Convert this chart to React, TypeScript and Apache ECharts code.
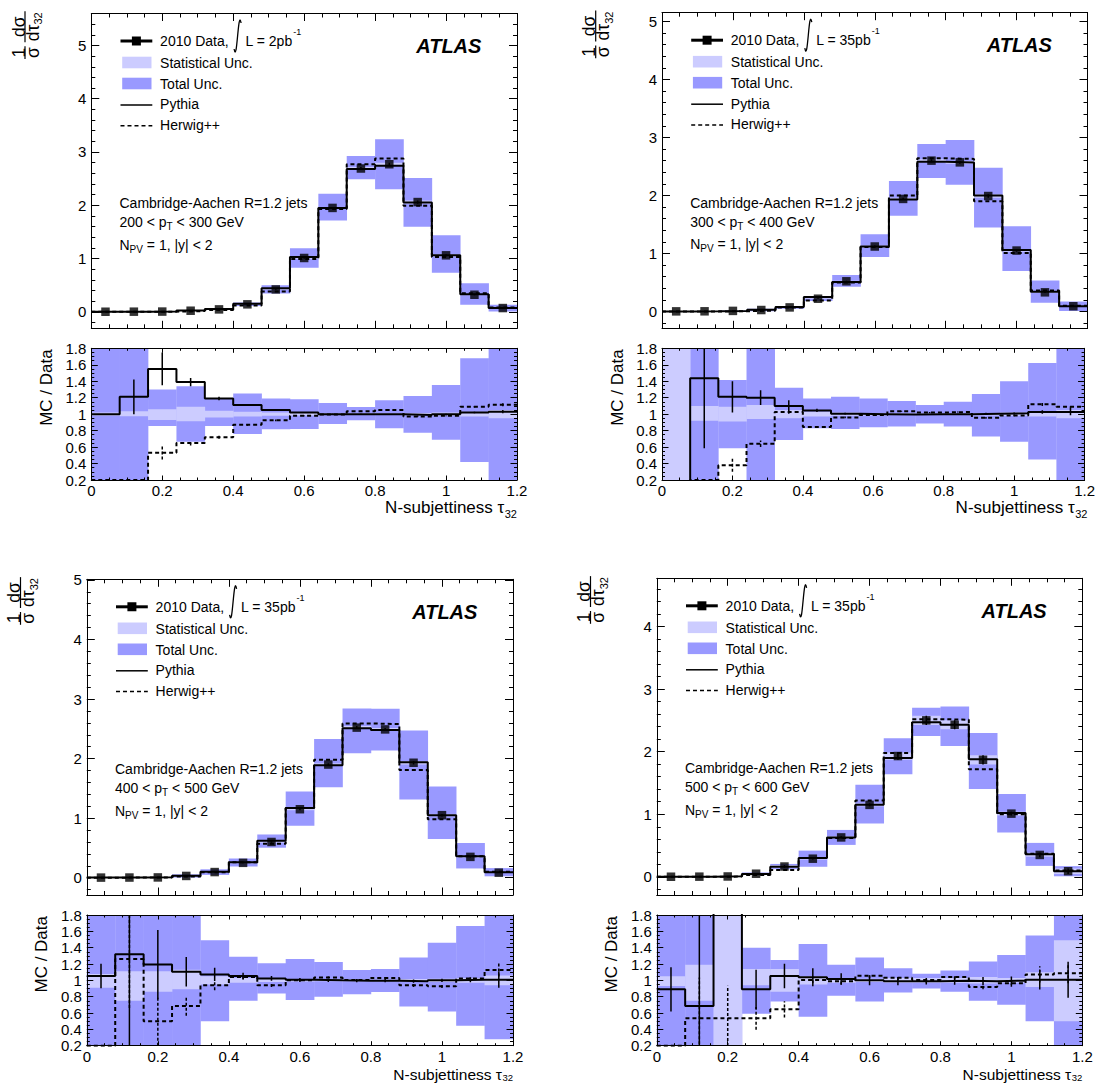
import React, { useEffect, useRef } from 'react';
import * as echarts from 'echarts';

// ---------- binning & ticks ----------
const binLow = [0, 0.08, 0.16, 0.24, 0.32, 0.4, 0.48, 0.56, 0.64, 0.72, 0.8, 0.88, 0.96, 1.04, 1.12];
const binHigh = [0.08, 0.16, 0.24, 0.32, 0.4, 0.48, 0.56, 0.64, 0.72, 0.8, 0.88, 0.96, 1.04, 1.12, 1.2];
const binCenter = [0.04, 0.12, 0.2, 0.28, 0.36, 0.44, 0.52, 0.6, 0.68, 0.76, 0.84, 0.92, 1.0, 1.08, 1.16];
const xTickValues = [0, 0.2, 0.4, 0.6, 0.8, 1, 1.2];
const mainYTickValues = [0, 1, 2, 3, 4, 5];
const ratioYTickValues = [0.2, 0.4, 0.6, 0.8, 1, 1.2, 1.4, 1.6, 1.8];

const ptLow = ['200', '300', '400', '500'];
const ptHigh = ['300', '400', '500', '600'];
const lumiText = ['2pb', '35pb', '35pb', '35pb'];

// ---------- panel 1: 200 < pT < 300 GeV ----------
const p1Data = [0.001, 0.002, 0.004, 0.02, 0.045, 0.14, 0.42, 1.01, 1.95, 2.69, 2.77, 2.06, 1.06, 0.32, 0.07];
const p1Pythia = [0.001, 0.002, 0.006, 0.025, 0.05, 0.15, 0.44, 1.03, 1.95, 2.68, 2.74, 2.05, 1.06, 0.33, 0.07];
const p1Herwig = [0.0, 0.0, 0.003, 0.013, 0.033, 0.12, 0.38, 0.99, 1.93, 2.77, 2.88, 1.99, 1.03, 0.35, 0.08];
const p1TotUp = [1.9, 1.9, 1.30, 1.34, 1.185, 1.25, 1.19, 1.18, 1.136, 1.087, 1.17, 1.22, 1.355, 1.68, 1.9];
const p1TotDn = [0.1, 0.1, 0.856, 0.666, 0.856, 0.76, 0.816, 0.82, 0.88, 0.925, 0.83, 0.775, 0.69, 0.42, 0.1];
const p1StatUp = [1.02, 1.035, 1.06, 1.09, 1.04, 1.03, 1.02, 1.015, 1.01, 1.01, 1.01, 1.015, 1.02, 1.03, 1.05];
const p1StatDn = [0.98, 0.975, 0.93, 0.915, 0.96, 0.97, 0.98, 0.985, 0.99, 0.99, 0.99, 0.985, 0.98, 0.97, 0.95];
const p1PyRatio = [1.0, 1.21, 1.55, 1.39, 1.19, 1.11, 1.05, 1.02, 1.0, 1.0, 0.998, 0.99, 1.0, 1.02, 1.03];
const p1PyErr = [0.0, 0.21, 0.2, 0.05, 0.02, 0.01, 0.01, 0.005, 0.005, 0.005, 0.005, 0.005, 0.005, 0.01, 0.02];
const p1HwRatio = [0.2, 0.2, 0.53, 0.65, 0.72, 0.87, 0.925, 0.98, 0.995, 1.035, 1.05, 0.97, 0.98, 1.09, 1.115];
const p1HwErr = [0, 0, 0.08, 0.03, 0.02, 0.01, 0.01, 0.005, 0.005, 0.005, 0.005, 0.005, 0.005, 0.01, 0.02];

// ---------- panel 2: 300 < pT < 400 GeV ----------
const p2Data = [0.002, 0.003, 0.01, 0.025, 0.07, 0.22, 0.52, 1.12, 1.94, 2.60, 2.57, 1.99, 1.05, 0.33, 0.09];
const p2Pythia = [0.0, 0.004, 0.01, 0.03, 0.075, 0.25, 0.51, 1.12, 1.93, 2.58, 2.57, 2.0, 1.06, 0.34, 0.09];
const p2Herwig = [0.0, 0.0, 0.004, 0.015, 0.07, 0.19, 0.50, 1.11, 2.0, 2.64, 2.63, 1.90, 1.01, 0.36, 0.10];
const p2TotUp = [1.9, 1.9, 1.415, 1.9, 1.32, 1.19, 1.21, 1.19, 1.16, 1.11, 1.15, 1.245, 1.40, 1.62, 1.9];
const p2TotDn = [0.1, 0.1, 0.585, 0.1, 0.686, 0.83, 0.82, 0.84, 0.85, 0.885, 0.85, 0.727, 0.666, 0.45, 0.1];
const p2StatUp = [1.9, 1.10, 1.09, 1.11, 1.05, 1.03, 1.02, 1.015, 1.01, 1.01, 1.01, 1.015, 1.02, 1.03, 1.05];
const p2StatDn = [0.1, 0.92, 0.91, 0.94, 0.95, 0.97, 0.98, 0.985, 0.99, 0.99, 0.99, 0.985, 0.98, 0.97, 0.95];
const p2PyRatio = [0.0, 1.435, 1.21, 1.20, 1.10, 1.045, 1.006, 1.0, 0.995, 1.0, 1.0, 1.006, 1.01, 1.026, 1.026];
const p2PyErr = [0, 0.85, 0.19, 0.09, 0.07, 0.02, 0.01, 0.01, 0.005, 0.005, 0.005, 0.01, 0.01, 0.02, 0.04];
const p2HwRatio = [0.0, 0.2, 0.38, 0.64, 1.025, 0.845, 0.96, 0.99, 1.035, 1.02, 1.026, 0.955, 0.985, 1.12, 1.09];
const p2HwErr = [0, 0, 0.08, 0.04, 0.02, 0.01, 0.01, 0.005, 0.005, 0.005, 0.005, 0.01, 0.01, 0.02, 0.03];

// ---------- panel 3: 400 < pT < 500 GeV ----------
const p3Data = [0.002, 0.003, 0.005, 0.03, 0.095, 0.25, 0.60, 1.15, 1.90, 2.52, 2.49, 1.93, 1.05, 0.35, 0.085];
const p3Pythia = [0.002, 0.004, 0.006, 0.033, 0.10, 0.26, 0.62, 1.17, 1.89, 2.51, 2.48, 1.94, 1.05, 0.36, 0.09];
const p3Herwig = [0.0, 0.004, 0.003, 0.02, 0.09, 0.26, 0.57, 1.17, 1.98, 2.59, 2.58, 1.81, 0.98, 0.36, 0.10];
const p3TotUp = [1.9, 1.9, 1.9, 1.9, 1.49, 1.29, 1.21, 1.26, 1.225, 1.127, 1.14, 1.28, 1.46, 1.665, 1.9];
const p3TotDn = [0.1, 0.1, 0.1, 0.1, 0.50, 0.75, 0.84, 0.76, 0.80, 0.83, 0.857, 0.68, 0.62, 0.445, 0.28];
const p3StatUp = [1.078, 1.11, 1.11, 1.13, 1.05, 1.03, 1.02, 1.015, 1.01, 1.01, 1.01, 1.015, 1.02, 1.03, 1.06];
const p3StatDn = [0.91, 0.75, 0.86, 0.89, 0.95, 0.97, 0.98, 0.985, 0.99, 0.99, 0.99, 0.985, 0.98, 0.97, 0.94];
const p3PyRatio = [1.053, 1.32, 1.195, 1.105, 1.073, 1.053, 1.024, 1.008, 1.0, 0.996, 0.996, 0.99, 1.0, 1.008, 1.008];
const p3PyErr = [0.15, 1.2, 0.42, 0.18, 0.08, 0.04, 0.03, 0.02, 0.02, 0.02, 0.02, 0.02, 0.02, 0.03, 0.1];
const p3HwRatio = [0.2, 1.26, 0.50, 0.686, 0.94, 1.04, 0.94, 1.0, 1.036, 1.004, 1.03, 0.94, 0.927, 1.024, 1.127];
const p3HwErr = [0, 0.6, 0.3, 0.12, 0.06, 0.03, 0.02, 0.02, 0.01, 0.01, 0.01, 0.02, 0.02, 0.03, 0.08];

// ---------- panel 4: 500 < pT < 600 GeV ----------
const p4Data = [0.002, 0.003, 0.006, 0.05, 0.165, 0.29, 0.63, 1.15, 1.93, 2.50, 2.43, 1.87, 1.01, 0.35, 0.09];
const p4Pythia = [0.002, 0.002, 0.01, 0.045, 0.16, 0.30, 0.63, 1.15, 1.90, 2.47, 2.43, 1.88, 1.02, 0.36, 0.09];
const p4Herwig = [0.0, 0.002, 0.004, 0.03, 0.11, 0.30, 0.62, 1.22, 1.98, 2.52, 2.51, 1.72, 1.0, 0.37, 0.10];
const p4TotUp = [1.9, 1.9, 1.9, 1.40, 1.25, 1.445, 1.19, 1.28, 1.147, 1.08, 1.12, 1.23, 1.31, 1.55, 1.9];
const p4TotDn = [0.1, 0.1, 0.1, 0.59, 0.74, 0.555, 0.81, 0.74, 0.85, 0.90, 0.86, 0.75, 0.70, 0.50, 0.1];
const p4StatUp = [1.05, 1.19, 1.9, 1.14, 1.14, 1.05, 1.03, 1.02, 1.03, 1.03, 1.03, 1.04, 1.03, 1.10, 1.49];
const p4StatDn = [0.93, 0.75, 0.1, 0.94, 0.86, 0.95, 0.97, 0.98, 0.97, 0.97, 0.97, 0.96, 0.97, 0.92, 0.50];
const p4PyRatio = [0.89, 0.686, 2.5, 0.89, 1.053, 1.037, 1.016, 1.0, 0.99, 0.99, 0.996, 0.99, 0.996, 1.008, 1.008];
const p4PyErr = [0.27, 1.2, 0.3, 0.24, 0.15, 0.11, 0.07, 0.06, 0.05, 0.04, 0.05, 0.05, 0.05, 0.12, 0.22];
const p4HwRatio = [0.2, 0.535, 0.535, 0.535, 0.645, 1.004, 0.99, 1.057, 1.033, 1.004, 1.04, 0.92, 0.963, 1.073, 1.086];
const p4HwErr = [0, 0.5, 0.4, 0.14, 0.1, 0.04, 0.04, 0.03, 0.03, 0.03, 0.03, 0.03, 0.04, 0.1, 0.12];

const panels = [
  { data: p1Data, pythia: p1Pythia, herwig: p1Herwig, totUp: p1TotUp, totDn: p1TotDn, statUp: p1StatUp, statDn: p1StatDn, pyR: p1PyRatio, pyErr: p1PyErr, hwR: p1HwRatio, hwErr: p1HwErr },
  { data: p2Data, pythia: p2Pythia, herwig: p2Herwig, totUp: p2TotUp, totDn: p2TotDn, statUp: p2StatUp, statDn: p2StatDn, pyR: p2PyRatio, pyErr: p2PyErr, hwR: p2HwRatio, hwErr: p2HwErr },
  { data: p3Data, pythia: p3Pythia, herwig: p3Herwig, totUp: p3TotUp, totDn: p3TotDn, statUp: p3StatUp, statDn: p3StatDn, pyR: p3PyRatio, pyErr: p3PyErr, hwR: p3HwRatio, hwErr: p3HwErr },
  { data: p4Data, pythia: p4Pythia, herwig: p4Herwig, totUp: p4TotUp, totDn: p4TotDn, statUp: p4StatUp, statDn: p4StatDn, pyR: p4PyRatio, pyErr: p4PyErr, hwR: p4HwRatio, hwErr: p4HwErr },
];

// ---------- layout (pixels) ----------
const layout = [
  { L: 91.3, R: 517, mainT: 13.5, mainB: 328.3, ratioT: 348.3, ratioB: 480, yMin: -0.31, yMax: 5.6, titleY: 27.5, titleFs: 17, subFs: 11, subDy: 6 },
  { L: 662, R: 1087.5, mainT: 12.7, mainB: 328.3, ratioT: 348.3, ratioB: 480, yMin: -0.29, yMax: 5.15, titleY: 27.5, titleFs: 17, subFs: 11, subDy: 6 },
  { L: 86.8, R: 513, mainT: 579.3, mainB: 895, ratioT: 915, ratioB: 1045.7, yMin: -0.29, yMax: 5.01, titleY: 28.3, titleFs: 15.5, subFs: 9.5, subDy: 3.5 },
  { L: 656.8, R: 1082.3, mainT: 578.3, mainB: 895, ratioT: 915, ratioB: 1045.7, yMin: -0.29, yMax: 4.77, titleY: 28.3, titleFs: 15.5, subFs: 9.5, subDy: 3.5 },
];

const FONT = 'Liberation Sans';
const DARK = '#9999ff';
const LIGHT = '#ccccff';
const BLACK = '#000';

let measureCtx: any = null;
function tw(t: string, size: number, weight = 'normal', style = 'normal') {
  if (!measureCtx) measureCtx = document.createElement('canvas').getContext('2d');
  measureCtx.font = `${style} ${weight} ${size}px "${FONT}"`;
  return measureCtx.measureText(t).width;
}

function txt(t: string, x: number, y: number, size: number, align = 'left', va = 'middle', weight = 'normal', fstyle = 'normal') {
  return {
    type: 'text', x, y, z: 50,
    style: { text: t, fontSize: size, fontFamily: FONT, fontWeight: weight, fontStyle: fstyle, fill: BLACK, align, verticalAlign: va },
  };
}

type Part = { t: string; size: number; dy?: number };
function runText(x: number, y: number, parts: Part[]) {
  const out: any[] = [];
  let cx = x;
  for (const p of parts) {
    out.push(txt(p.t, cx, y + (p.dy || 0), p.size));
    cx += tw(p.t, p.size);
  }
  return out;
}

const fmtFrom = (vals: number[]) => (v: number) => {
  const hit = vals.find((t) => Math.abs(t - v) < 1e-6);
  return hit === undefined ? '' : String(hit);
};

function bandSeries(xi: number, lo: number[], hi: number[], color: string, z: number) {
  return {
    type: 'custom', xAxisIndex: xi, yAxisIndex: xi, clip: true, silent: true, z,
    data: binLow.map((b, i) => [b, binHigh[i], lo[i], hi[i]]),
    encode: { x: [0, 1], y: [2, 3] },
    renderItem: (_p: any, api: any) => {
      const a = api.coord([api.value(0), api.value(3)]);
      const b = api.coord([api.value(1), api.value(2)]);
      return { type: 'rect', shape: { x: a[0], y: a[1], width: b[0] - a[0] + 0.3, height: b[1] - a[1] }, style: { fill: color } };
    },
  };
}

function stepSeries(xi: number, vals: number[], dashed: boolean, z: number) {
  const d = binLow.map((b, i) => [b, vals[i]]);
  d.push([binHigh[binHigh.length - 1], vals[vals.length - 1]]);
  return {
    type: 'line', xAxisIndex: xi, yAxisIndex: xi, step: 'end', data: d, symbol: 'none', showSymbol: false,
    clip: true, silent: true, z,
    lineStyle: { color: BLACK, width: 2, type: dashed ? [4, 3] : 'solid' },
  };
}

function errSeries(xi: number, vals: number[], errs: number[], dashed: boolean, z: number) {
  const d: number[][] = [];
  binCenter.forEach((c, i) => { if (errs[i] > 0) d.push([c, vals[i] - errs[i], vals[i] + errs[i]]); });
  return {
    type: 'custom', xAxisIndex: xi, yAxisIndex: xi, clip: true, silent: true, z,
    data: d, encode: { x: 0, y: [1, 2] },
    renderItem: (_p: any, api: any) => {
      const a = api.coord([api.value(0), api.value(1)]);
      const b = api.coord([api.value(0), api.value(2)]);
      return { type: 'line', shape: { x1: a[0], y1: a[1], x2: b[0], y2: b[1] }, style: { stroke: BLACK, lineWidth: 1.5, lineDash: dashed ? [3, 2] : null } };
    },
  };
}

function axisBase(grid: number, pos: string, showLabel: boolean, majorLen: number, minorLen: number, minorSplit: number, fmt: any) {
  return {
    type: 'value', gridIndex: grid, position: pos, z: 10,
    axisLine: { show: true, onZero: false, lineStyle: { color: BLACK, width: 1 } },
    axisTick: { show: true, inside: true, length: majorLen, lineStyle: { color: BLACK, width: 1 } },
    minorTick: { show: true, splitNumber: minorSplit, length: minorLen, lineStyle: { color: BLACK, width: 1 } },
    splitLine: { show: false },
    minorSplitLine: { show: false },
    axisLabel: { show: showLabel, fontSize: 15, fontFamily: FONT, color: BLACK, formatter: fmt, margin: pos === 'bottom' ? 3 : 5 },
  };
}

function buildOption() {
  const grid: any[] = [];
  const xAxis: any[] = [];
  const yAxis: any[] = [];
  const series: any[] = [];
  const graphic: any[] = [];
  const xFmt = fmtFrom(xTickValues);
  const mainYFmt = fmtFrom(mainYTickValues);
  const ratioYFmt = fmtFrom(ratioYTickValues);

  panels.forEach((p, k) => {
    const g = layout[k];
    const gm = 2 * k;
    const gr = 2 * k + 1;
    grid.push({ left: g.L, top: g.mainT, width: g.R - g.L, height: g.mainB - g.mainT });
    grid.push({ left: g.L, top: g.ratioT, width: g.R - g.L, height: g.ratioB - g.ratioT });

    xAxis[2 * gm] = { ...axisBase(gm, 'bottom', false, 7.5, 4, 4, xFmt), min: 0, max: 1.2, interval: 0.2 };
    xAxis[2 * gm + 1] = { ...axisBase(gm, 'top', false, 7.5, 4, 4, xFmt), min: 0, max: 1.2, interval: 0.2 };
    yAxis[2 * gm] = { ...axisBase(gm, 'left', true, 8, 4, 5, mainYFmt), min: g.yMin, max: g.yMax, minInterval: 1, maxInterval: 1 };
    yAxis[2 * gm + 1] = { ...axisBase(gm, 'right', false, 8, 4, 5, mainYFmt), min: g.yMin, max: g.yMax, minInterval: 1, maxInterval: 1 };
    xAxis[2 * gr] = { ...axisBase(gr, 'bottom', true, 4.5, 2.5, 4, xFmt), min: 0, max: 1.2, interval: 0.2 };
    xAxis[2 * gr + 1] = { ...axisBase(gr, 'top', false, 4.5, 2.5, 4, xFmt), min: 0, max: 1.2, interval: 0.2 };
    yAxis[2 * gr] = { ...axisBase(gr, 'left', true, 6.5, 3, 4, ratioYFmt), min: 0.2, max: 1.8, interval: 0.2 };
    yAxis[2 * gr + 1] = { ...axisBase(gr, 'right', false, 6.5, 3, 4, ratioYFmt), min: 0.2, max: 1.8, interval: 0.2 };

    const xm = 2 * gm;
    const xr = 2 * gr;

    // main plot
    const mainTotLo = p.data.map((v, i) => v * p.totDn[i]);
    const mainTotHi = p.data.map((v, i) => v * p.totUp[i]);
    const mainStatLo = p.data.map((v, i) => v * p.statDn[i]);
    const mainStatHi = p.data.map((v, i) => v * p.statUp[i]);
    const dataErr = p.data.map((v, i) => v * (p.statUp[i] - 1));
    series.push(bandSeries(xm, mainTotLo, mainTotHi, DARK, 1));
    series.push(bandSeries(xm, mainStatLo, mainStatHi, LIGHT, 2));
    series.push(stepSeries(xm, p.herwig, true, 3));
    series.push(stepSeries(xm, p.pythia, false, 4));
    series.push(errSeries(xm, p.data, dataErr, false, 5));
    series.push({
      type: 'scatter', xAxisIndex: xm, yAxisIndex: xm, silent: true, z: 6,
      data: binCenter.map((c, i) => [c, p.data[i]]),
      symbol: 'rect', symbolSize: 8.5, itemStyle: { color: BLACK },
    });

    // ratio plot
    series.push(bandSeries(xr, p.totDn, p.totUp, DARK, 1));
    series.push(bandSeries(xr, p.statDn, p.statUp, LIGHT, 2));
    series.push(stepSeries(xr, p.hwR, true, 3));
    series.push(errSeries(xr, p.hwR, p.hwErr, true, 4));
    series.push(stepSeries(xr, p.pyR, false, 5));
    series.push(errSeries(xr, p.pyR, p.pyErr, false, 6));

    // ---- texts / legend ----
    const L = g.L, T = g.mainT;
    const r1 = T + 27.5;
    graphic.push({ type: 'line', z: 50, shape: { x1: L + 29.2, y1: r1, x2: L + 61, y2: r1 }, style: { stroke: BLACK, lineWidth: 3 } });
    graphic.push({ type: 'rect', z: 51, shape: { x: L + 45.1 - 4.5, y: r1 - 4.5, width: 9, height: 9 }, style: { fill: BLACK } });
    const tx = L + 68.8;
    graphic.push(txt('2010 Data,', tx, r1, 14));
    const ix = tx + tw('2010 Data,', 14) + 9;
    const iy = r1 - 5;
    graphic.push({
      type: 'bezierCurve', z: 50,
      shape: { x1: ix + 3.5, y1: iy - 13, cpx1: ix + 0.5, cpy1: iy - 30, cpx2: ix - 0.5, cpy2: iy + 30, x2: ix - 3.5, y2: iy + 13 },
      style: { stroke: BLACK, lineWidth: 1.3, fill: 'none' },
    });
    const lx = ix + 8;
    const lstr = 'L = ' + lumiText[k];
    graphic.push(txt(lstr, lx, r1, 14));
    graphic.push(txt('-1', lx + tw(lstr, 14) + 0.5, r1 - 9, 9));
    graphic.push({ type: 'rect', z: 50, shape: { x: L + 30.9, y: T + 43.2, width: 29.3, height: 11.6 }, style: { fill: LIGHT } });
    graphic.push(txt('Statistical Unc.', tx, T + 49.2, 14));
    graphic.push({ type: 'rect', z: 50, shape: { x: L + 30.9, y: T + 64.2, width: 29.3, height: 11.6 }, style: { fill: DARK } });
    graphic.push(txt('Total Unc.', tx, T + 70.3, 14));
    graphic.push({ type: 'line', z: 50, shape: { x1: L + 29.2, y1: T + 91.5, x2: L + 61, y2: T + 91.5 }, style: { stroke: BLACK, lineWidth: 1.5 } });
    graphic.push(txt('Pythia', tx, T + 90.8, 14));
    graphic.push({ type: 'line', z: 50, shape: { x1: L + 29.2, y1: T + 112.2, x2: L + 61, y2: T + 112.2 }, style: { stroke: BLACK, lineWidth: 1.5, lineDash: [4, 3] } });
    graphic.push(txt('Herwig++', tx, T + 111.5, 14));

    graphic.push(txt('ATLAS', g.R - 35.6, T + 32.5, 20, 'right', 'middle', 'bold', 'italic'));

    const ax = L + 28.2;
    graphic.push(txt('Cambridge-Aachen R=1.2 jets', ax, T + 189.8, 14));
    graphic.push(...runText(ax, T + 208.8, [
      { t: ptLow[k] + ' < p', size: 14 },
      { t: 'T', size: 10, dy: 4.5 },
      { t: ' < ' + ptHigh[k] + ' GeV', size: 14 },
    ]));
    graphic.push(...runText(ax, T + 231.5, [
      { t: 'N', size: 14 },
      { t: 'PV', size: 10, dy: 4.5 },
      { t: ' = 1, |y| < 2', size: 14 },
    ]));

    // main y-axis title: (1/σ)(dσ/dτ32), rotated
    {
      const fs = 17.5, ss = 11;
      const w1 = Math.max(tw('1', fs), tw('σ', fs)) + 2;
      const x2 = w1 + 4;
      const wd = tw('dτ', fs) + tw('32', ss);
      const w2 = Math.max(tw('dσ', fs), wd) + 2;
      const child = (t: string, x: number, y: number, size: number, align: string, va: string) => ({
        type: 'text', x, y, z: 50, style: { text: t, fontSize: size, fontFamily: FONT, fill: BLACK, align, verticalAlign: va },
      });
      graphic.push({
        type: 'group', x: L - 66.3, y: T + 45.5, rotation: Math.PI / 2, z: 50,
        children: [
          child('1', w1 / 2, 2.5, fs, 'center', 'bottom'),
          { type: 'line', z: 50, shape: { x1: 0, y1: 0, x2: w1, y2: 0 }, style: { stroke: BLACK, lineWidth: 1.2 } },
          child('σ', w1 / 2, -1.5, fs, 'center', 'top'),
          child('dσ', x2 + w2 / 2, 2.5, fs, 'center', 'bottom'),
          { type: 'line', z: 50, shape: { x1: x2, y1: 0, x2: x2 + w2, y2: 0 }, style: { stroke: BLACK, lineWidth: 1.2 } },
          child('dτ', x2 + 1, -1.5, fs, 'left', 'top'),
          child('32', x2 + 1 + tw('dτ', fs), 7.5, ss, 'left', 'top'),
        ],
      });
    }

    // ratio y title
    graphic.push({
      type: 'text', x: L - 45, y: g.ratioT + 1, rotation: Math.PI / 2, z: 50,
      style: { text: 'MC / Data', fontSize: 17, fontFamily: FONT, fill: BLACK, align: 'right', verticalAlign: 'middle' },
    });

    // x title
    const subW = tw('32', g.subFs);
    const mainY = g.ratioB + g.titleY;
    graphic.push(txt('32', g.R, mainY + g.subDy, g.subFs, 'right', 'middle'));
    graphic.push(txt('N-subjettiness τ', g.R - subW - 0.5, mainY, g.titleFs, 'right', 'middle'));
  });

  return {
    animation: false,
    backgroundColor: '#fff',
    textStyle: { fontFamily: FONT },
    grid, xAxis, yAxis, series, graphic,
  };
}

export default function App() {
  const ref = useRef<HTMLDivElement>(null);
  useEffect(() => {
    const chart = echarts.init(ref.current as HTMLDivElement, null, { renderer: 'svg' });
    chart.setOption(buildOption() as any);
    return () => chart.dispose();
  }, []);
  return <div ref={ref} style={{ position: 'absolute', left: 0, top: 0, width: 1098, height: 1083, background: '#fff' }} />;
}
